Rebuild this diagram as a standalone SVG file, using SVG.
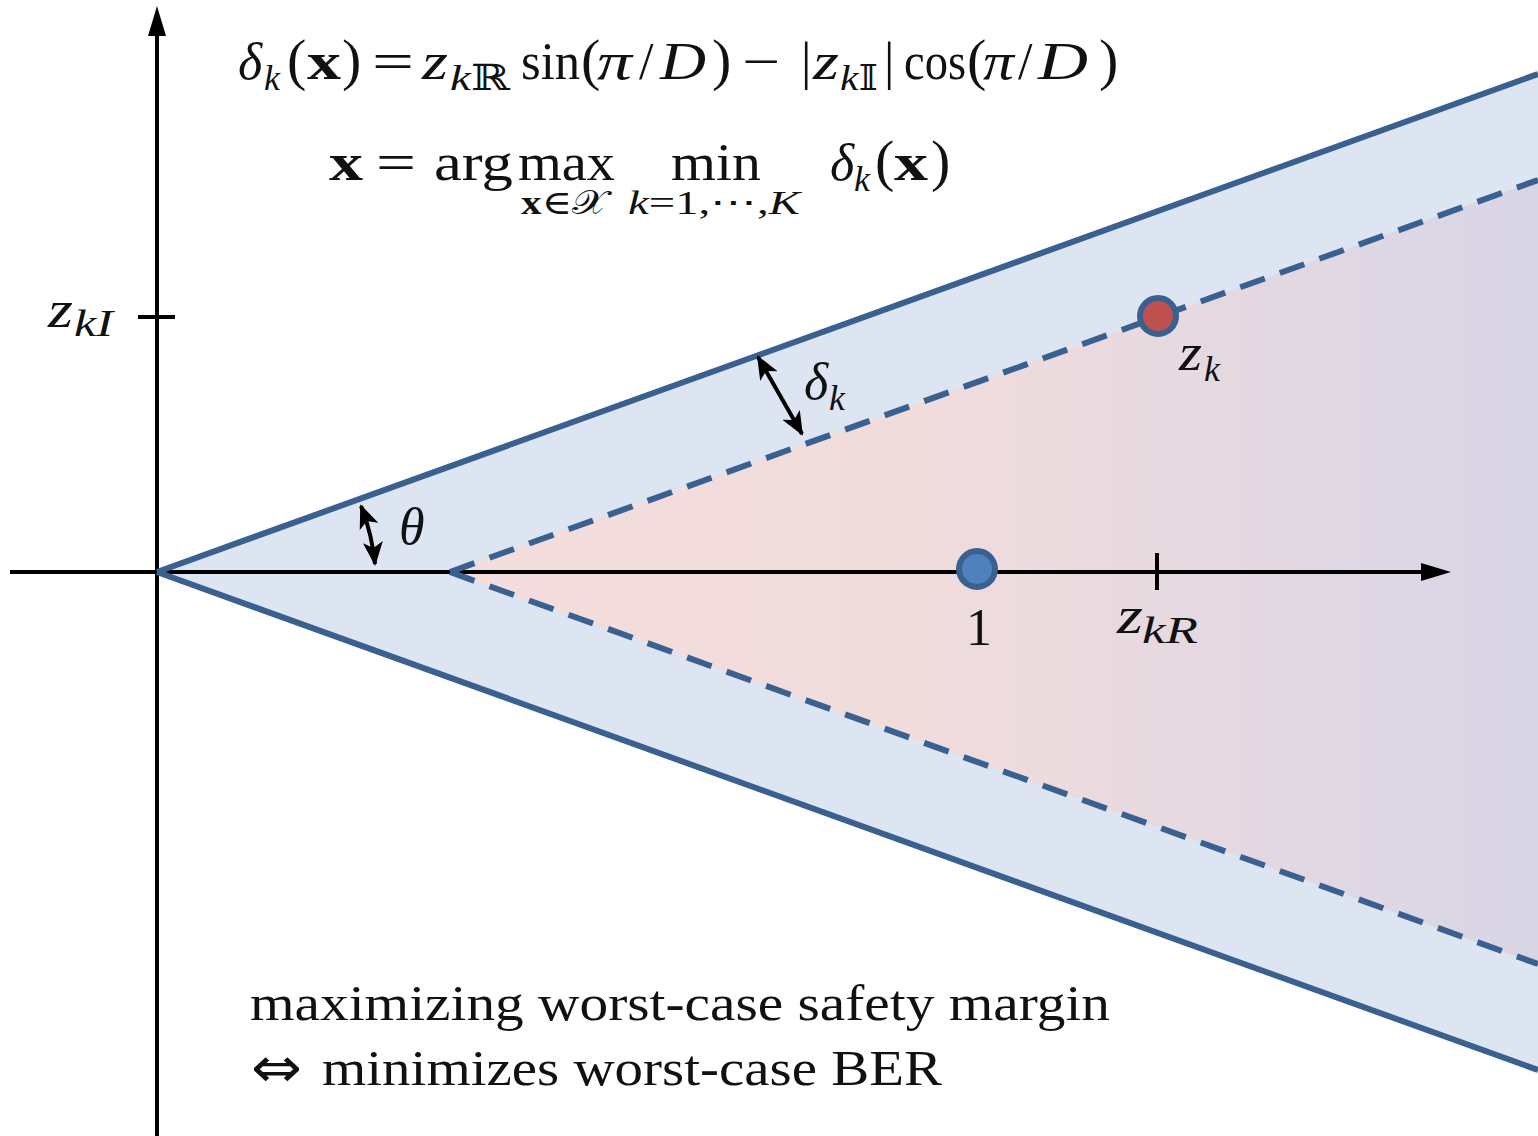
<svg xmlns="http://www.w3.org/2000/svg" width="1538" height="1136" viewBox="0 0 1538 1136">
<defs>
<style>
.m{font-family:"Liberation Serif","DejaVu Serif",serif;fill:#111;}
.i{font-style:italic;}
.b{font-weight:bold;}
.s{font-size:36px;}
.n{font-size:52px;}
.p{font-size:58px;}
.cone{fill:none;stroke:#3a6090;stroke-width:6;}
.dash{stroke-dasharray:26 16;}
.ax{stroke:#000;stroke-width:4;fill:none;}
</style>
<linearGradient id="pinkGrad" gradientUnits="userSpaceOnUse" x1="450" y1="0" x2="1538" y2="0">
<stop offset="0" stop-color="#f4dddc"/>
<stop offset="0.42" stop-color="#f1dcdc"/>
<stop offset="1" stop-color="#d8d5e6"/>
</linearGradient>
<marker id="ah" viewBox="0 0 24 20" refX="22" refY="10" markerWidth="24" markerHeight="20" markerUnits="userSpaceOnUse" orient="auto-start-reverse">
<path d="M0,0 L24,10 L0,20 L6,10 Z" fill="#000"/>
</marker>
</defs>
<rect width="1538" height="1136" fill="#fff"/>

<g id="regions">
<polygon points="157,572 1538,74 1538,1070" fill="#dce5f1"/>
<polygon points="450,572 1538,180 1538,964" fill="url(#pinkGrad)"/>
</g>

<g id="axes">
<line class="ax" x1="157" y1="34" x2="157" y2="1136"/>
<polygon points="157,6 148,36 166,36" fill="#000"/>
<line class="ax" x1="10" y1="572" x2="1424" y2="572"/>
<polygon points="1451,572 1421,563 1421,581" fill="#000"/>
<line class="ax" x1="138" y1="317" x2="175" y2="317"/>
<line class="ax" x1="1157" y1="553" x2="1157" y2="590"/>
</g>

<g id="connectors">
<line class="cone" x1="157" y1="572" x2="1538" y2="74"/>
<line class="cone" x1="157" y1="572" x2="1538" y2="1070"/>
<line class="cone dash" x1="450" y1="572" x2="1538" y2="180"/>
<line class="cone dash" x1="450" y1="572" x2="1538" y2="964"/>
<path d="M361,506 A216,216 0 0 1 375,564" fill="none" stroke="#000" stroke-width="4" marker-start="url(#ah)" marker-end="url(#ah)"/>
<line x1="758" y1="357" x2="802" y2="434" stroke="#000" stroke-width="4" marker-start="url(#ah)" marker-end="url(#ah)"/>
</g>

<g id="point-zk">
<circle cx="1158" cy="316" r="18" fill="#c0504d" stroke="#3a6090" stroke-width="6"/>
<text class="m n i" x="1179" y="370" textLength="23" lengthAdjust="spacingAndGlyphs">z</text>
<text class="m s i" x="1204" y="381">k</text>
</g>

<g id="point-one">
<circle cx="977" cy="569" r="18" fill="#4f81bd" stroke="#3a6090" stroke-width="6"/>
<text class="m n" x="966" y="645">1</text>
</g>

<g id="label-zkR">
<text class="m n i" x="1117" y="633" textLength="26" lengthAdjust="spacingAndGlyphs">z</text>
<text class="m i" x="1142" y="643" font-size="38" textLength="56" lengthAdjust="spacingAndGlyphs">kR</text>
</g>

<g id="label-zkI">
<text class="m n i" x="48" y="327" textLength="25" lengthAdjust="spacingAndGlyphs">z</text>
<text class="m i" x="74" y="336" font-size="38" textLength="39" lengthAdjust="spacingAndGlyphs">kI</text>
</g>

<g id="label-theta">
<text class="m n i" x="399" y="544">θ</text>
</g>

<g id="label-delta">
<text class="m n i" x="804" y="399">δ</text>
<text class="m s i" x="829" y="410">k</text>
</g>

<g id="formula-1">
<text class="m n i" x="238" y="79">δ</text>
<text class="m s i" x="264" y="90">k</text>
<text class="m p" x="287" y="79">(</text>
<text class="m n b" x="307" y="79" textLength="34" lengthAdjust="spacingAndGlyphs">x</text>
<text class="m p" x="342" y="79">)</text>
<text class="m n" x="372" y="79" textLength="42" lengthAdjust="spacingAndGlyphs">=</text>
<text class="m n i" x="422" y="79" textLength="26" lengthAdjust="spacingAndGlyphs">z</text>
<text class="m s" x="450" y="90" textLength="60" lengthAdjust="spacingAndGlyphs"><tspan class="i">k</tspan>ℝ</text>
<text class="m n" x="521" y="79" textLength="59" lengthAdjust="spacingAndGlyphs">sin</text>
<text class="m p" x="581" y="79">(</text>
<text class="m n i" x="597" y="79" textLength="35" lengthAdjust="spacingAndGlyphs">π</text>
<text class="m n" x="639" y="79">/</text>
<text class="m n i" x="660" y="79" textLength="46" lengthAdjust="spacingAndGlyphs">D</text>
<text class="m p" x="712" y="79">)</text>
<text class="m n" x="742" y="79" textLength="38" lengthAdjust="spacingAndGlyphs">−</text>
<text class="m n" x="801" y="79">|</text>
<text class="m n i" x="813" y="79" textLength="26" lengthAdjust="spacingAndGlyphs">z</text>
<text class="m s" x="840" y="90" textLength="38" lengthAdjust="spacingAndGlyphs"><tspan class="i">k</tspan>𝕀</text>
<text class="m n" x="884" y="79">|</text>
<text class="m n" x="904" y="79" textLength="62" lengthAdjust="spacingAndGlyphs">cos</text>
<text class="m p" x="967" y="79">(</text>
<text class="m n i" x="983" y="79" textLength="31" lengthAdjust="spacingAndGlyphs">π</text>
<text class="m n" x="1018" y="79">/</text>
<text class="m n i" x="1038" y="79" textLength="50" lengthAdjust="spacingAndGlyphs">D</text>
<text class="m p" x="1099" y="79">)</text>
</g>

<g id="formula-2">
<text class="m n b" x="329" y="180" textLength="34" lengthAdjust="spacingAndGlyphs">x</text>
<text class="m n" x="376" y="180" textLength="40" lengthAdjust="spacingAndGlyphs">=</text>
<text class="m n" x="434" y="180" textLength="79" lengthAdjust="spacingAndGlyphs">arg</text>
<text class="m n" x="518" y="180" textLength="97" lengthAdjust="spacingAndGlyphs">max</text>
<text class="m n" x="671" y="180" textLength="90" lengthAdjust="spacingAndGlyphs">min</text>
<text class="m n i" x="830" y="180">δ</text>
<text class="m s i" x="854" y="191">k</text>
<text class="m p" x="875" y="180">(</text>
<text class="m n b" x="894" y="180" textLength="34" lengthAdjust="spacingAndGlyphs">x</text>
<text class="m p" x="931" y="180">)</text>
<text class="m" x="521" y="214" font-size="34" textLength="86" lengthAdjust="spacingAndGlyphs"><tspan class="b">x</tspan>∈𝒳</text>
<text class="m" x="628" y="214" font-size="34" textLength="172" lengthAdjust="spacingAndGlyphs"><tspan class="i">k</tspan>=1,⋯,<tspan class="i">K</tspan></text>
</g>

<g id="caption">
<text class="m" x="250" y="1020" font-size="50" textLength="860" lengthAdjust="spacingAndGlyphs">maximizing worst-case safety margin</text>
<text x="251" y="1087" font-family="DejaVu Sans, sans-serif" font-size="56" fill="#111" textLength="51" lengthAdjust="spacingAndGlyphs">⇔</text>
<text class="m" x="322" y="1085" font-size="50" textLength="620" lengthAdjust="spacingAndGlyphs">minimizes worst-case BER</text>
</g>
</svg>
